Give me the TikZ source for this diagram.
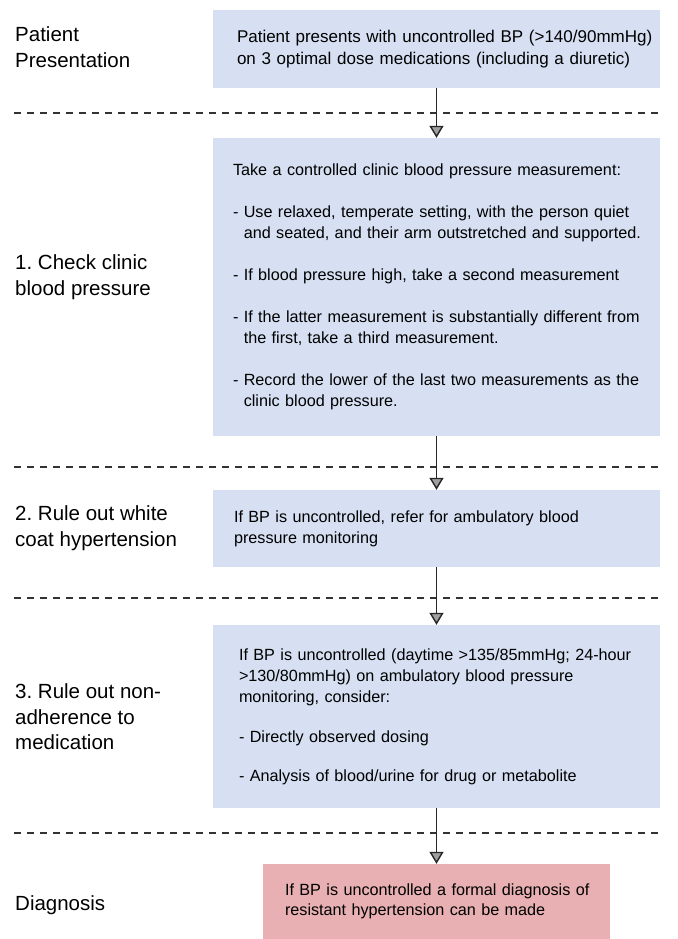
\documentclass[tikz,border=0pt]{standalone}
\usepackage{xcolor}
\usepackage{fontspec}
\setmainfont{Liberation Sans}
\usepackage{tikz}
\usetikzlibrary{arrows.meta, positioning}
\frenchspacing
\definecolor{stepblue}{RGB}{214,224,242}
\definecolor{stepred}{RGB}{232,176,178}
\tikzstyle{textindent} = [execute at begin node={\leftskip=#1}]
\tikzstyle{stepbox} = [rectangle, minimum width=447pt, text width=435pt, inner xsep=6pt, inner ysep=0pt, align=left, fill=stepblue, font=\fontsize{16.2}{21}\selectfont, textindent=14pt]
\tikzstyle{endbox} = [rectangle, minimum width=347pt, text width=335pt, inner xsep=6pt, inner ysep=0pt, align=left, fill=stepred, font=\fontsize{16.2}{20.5}\selectfont, textindent=16pt]
\tikzstyle{stage} = [anchor=west, inner sep=0pt, align=left, font=\fontsize{20.5}{25.5}\selectfont]
\tikzstyle{divider} = [line width=1.3pt, draw=black!80, dash pattern=on 7pt off 6pt]
\tikzstyle{arrow} = [line width=1.4pt, draw=black!85, -{Triangle[width=14pt,length=12pt,fill=gray!75]}]

\begin{document}
\begin{tikzpicture}[x=1pt, y=-1pt]
\useasboundingbox (0,0) rectangle (677,939);

\node (present) [stepbox, minimum height=78pt, font=\fontsize{17}{22}\selectfont, textindent=18pt] at (436.5,49) {Patient presents with uncontrolled BP (>140/90mmHg)\\on 3 optimal dose medications (including a diuretic)};
\node (check) [stepbox, minimum height=298pt] at (436.5,287) {Take a controlled clinic blood pressure measurement:\\[21pt]
- Use relaxed, temperate setting, with the person quiet\\
\hphantom{- }and seated, and their arm outstretched and supported.\\[21pt]
- If blood pressure high, take a second measurement\\[21pt]
- If the latter measurement is substantially different from\\
\hphantom{- }the first, take a third measurement.\\[21pt]
- Record the lower of the last two measurements as the\\
\hphantom{- }clinic blood pressure.};
\node (whitecoat) [stepbox, minimum height=77pt, textindent=15pt] at (436.5,528.5) {If BP is uncontrolled, refer for ambulatory blood\\pressure monitoring};
\node (adherence) [stepbox, minimum height=183pt, textindent=20pt] at (436.5,716.5) {If BP is uncontrolled (daytime >135/85mmHg; 24-hour\\
>130/80mmHg) on ambulatory blood pressure\\
monitoring, consider:\\[19pt]
- Directly observed dosing\\[18pt]
- Analysis of blood/urine for drug or metabolite};
\node (diagnosis) [endbox, minimum height=75pt] at (436.5,901.5) {If BP is uncontrolled a formal diagnosis of\\resistant hypertension can be made};

\node (presentlabel) [stage] at (15,47) {Patient\\Presentation};
\node (checklabel) [stage] at (15,277) {1. Check clinic\\blood pressure};
\node (whitecoatlabel) [stage] at (15,528) {2. Rule out white\\coat hypertension};
\node (adherencelabel) [stage] at (15,717) {3. Rule out non-\\adherence to\\medication};
\node (diagnosislabel) [stage] at (15,905) {Diagnosis};

\draw [divider] (14,113) -- (660,113);
\draw [divider] (14,467) -- (660,467);
\draw [divider] (14,598) -- (660,598);
\draw [divider] (14,833) -- (660,833);

\draw [arrow] (present) -- (check);
\draw [arrow] (check) -- (whitecoat);
\draw [arrow] (whitecoat) -- (adherence);
\draw [arrow] (adherence) -- (diagnosis);

\end{tikzpicture}
\end{document}
